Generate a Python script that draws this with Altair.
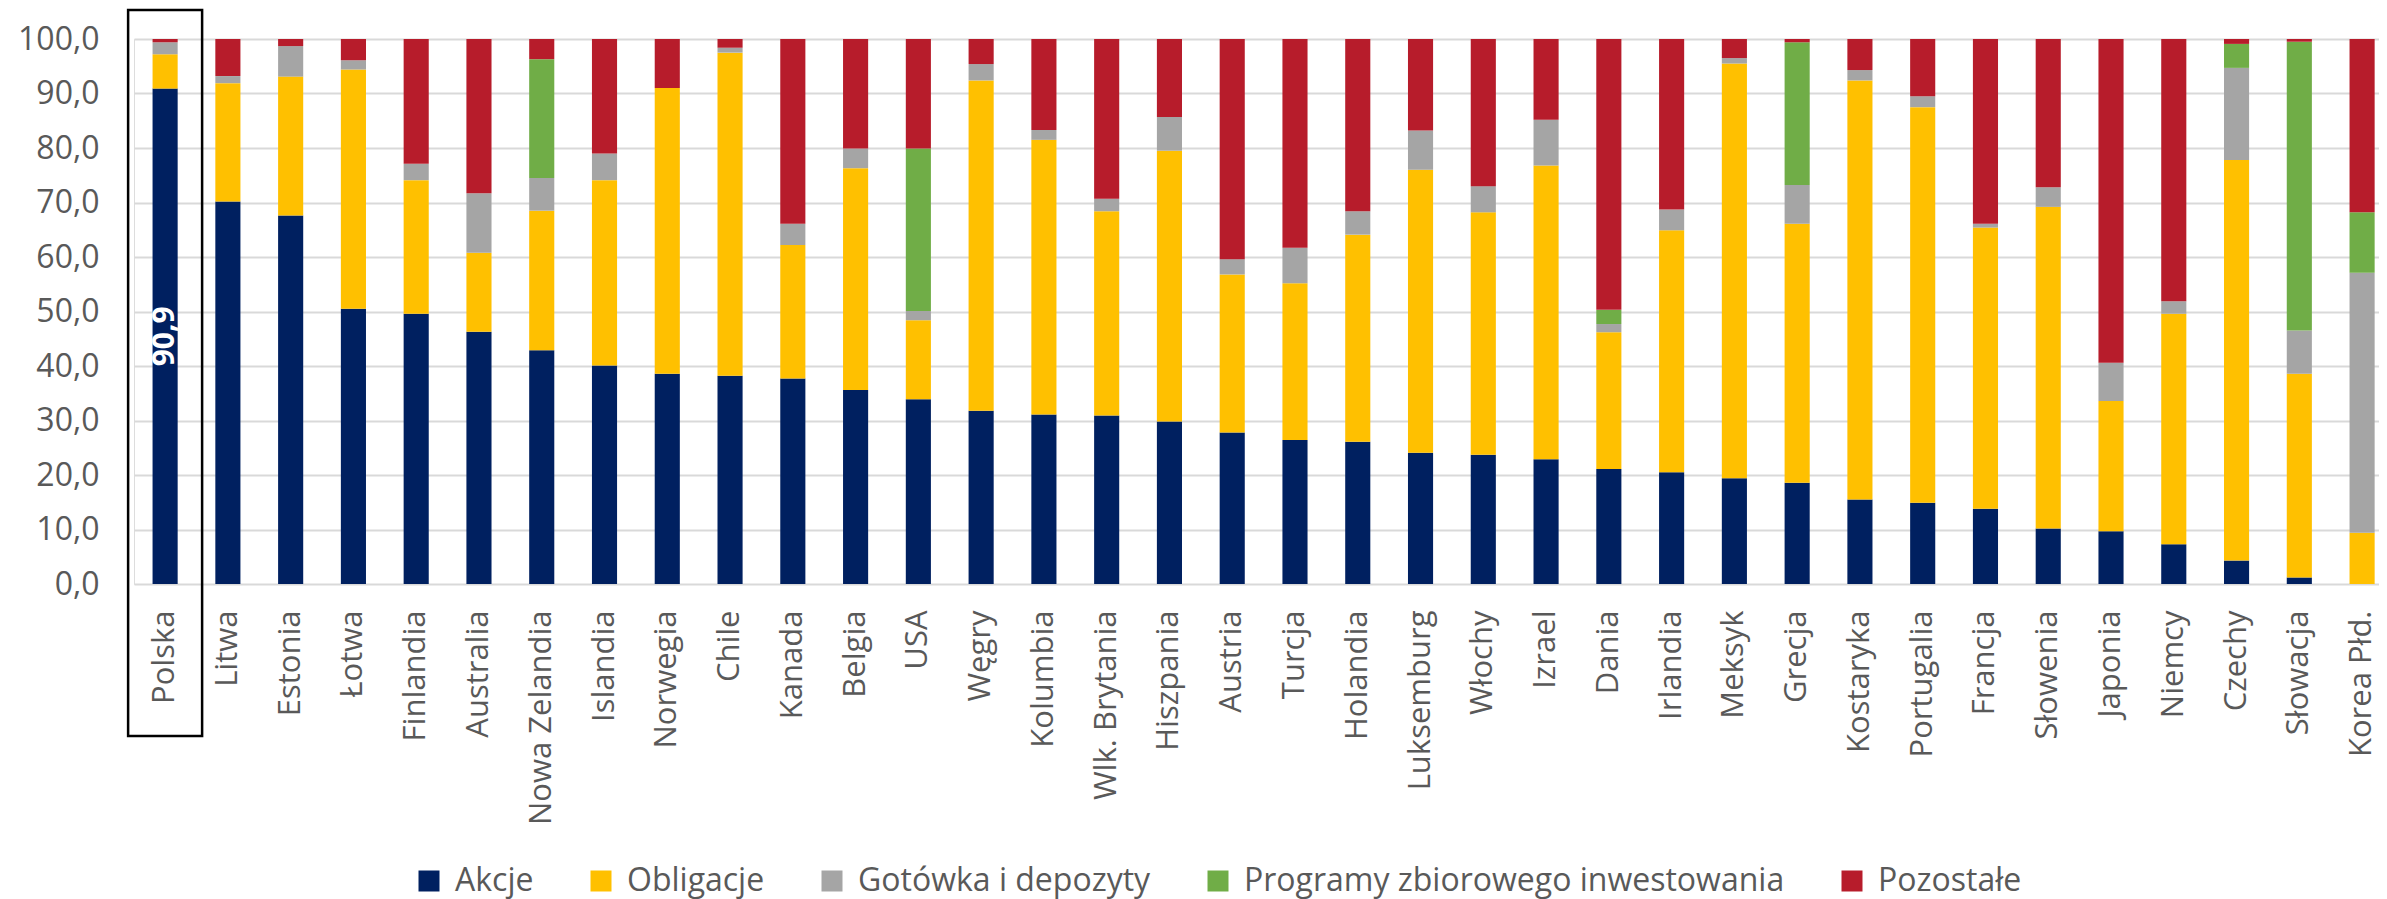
import altair as alt
import pandas as pd

countries = ["Polska", "Litwa", "Estonia", "Łotwa", "Finlandia", "Australia", "Nowa Zelandia",
             "Islandia", "Norwegia", "Chile", "Kanada", "Belgia", "USA", "Węgry", "Kolumbia",
             "Wlk. Brytania", "Hiszpania", "Austria", "Turcja", "Holandia", "Luksemburg", "Włochy",
             "Izrael", "Dania", "Irlandia", "Meksyk", "Grecja", "Kostaryka", "Portugalia", "Francja",
             "Słowenia", "Japonia", "Niemcy", "Czechy", "Słowacja", "Korea Płd."]

akcje = [90.9, 70.2, 67.6, 50.5, 49.6, 46.3, 42.9, 40.1, 38.6, 38.2, 37.7, 35.6, 33.9, 31.8, 31.1,
         30.9, 29.8, 27.8, 26.4, 26.1, 24.1, 23.7, 22.9, 21.1, 20.5, 19.4, 18.6, 15.5, 14.9, 13.8,
         10.2, 9.7, 7.3, 4.3, 1.2, 0.0]
obligacje = [6.3, 21.7, 25.5, 43.9, 24.5, 14.5, 25.6, 34.0, 52.4, 59.3, 24.5, 40.7, 14.5, 60.6, 50.4,
             37.5, 49.7, 29.0, 28.8, 38.0, 51.9, 44.5, 53.9, 25.1, 44.4, 76.1, 47.5, 76.9, 72.6, 51.6,
             59.0, 23.9, 42.3, 73.5, 37.4, 9.4]
gotowka = [2.2, 1.3, 5.6, 1.7, 3.0, 10.9, 6.0, 4.9, 0.0, 0.9, 3.9, 3.6, 1.7, 3.0, 1.8,
           2.3, 6.2, 2.8, 6.5, 4.3, 7.2, 4.8, 8.4, 1.5, 3.8, 1.0, 7.1, 1.9, 2.0, 0.7,
           3.6, 7.0, 2.3, 16.9, 7.9, 47.7]
programy = [0.0, 0.0, 0.0, 0.0, 0.0, 0.0, 21.8, 0.0, 0.0, 0.0, 0.0, 0.0, 29.8, 0.0, 0.0,
            0.0, 0.0, 0.0, 0.0, 0.0, 0.0, 0.0, 0.0, 2.6, 0.0, 0.0, 26.2, 0.0, 0.0, 0.0,
            0.0, 0.0, 0.0, 4.4, 53.0, 11.1]
pozostale = [0.6, 6.8, 1.3, 3.9, 22.9, 28.3, 3.7, 21.0, 9.0, 1.6, 33.9, 20.1, 20.1, 4.6, 16.7,
             29.3, 14.3, 40.4, 38.3, 31.6, 16.8, 27.0, 14.8, 49.7, 31.3, 3.5, 0.6, 5.7, 10.5, 33.9,
             27.2, 59.4, 48.1, 0.9, 0.5, 31.8]

series = ["Akcje", "Obligacje", "Gotówka i depozyty", "Programy zbiorowego inwestowania", "Pozostałe"]
colors = ["#002060", "#FFC000", "#A5A5A5", "#70AD47", "#B71C2B"]

highlight = "Polska"

rows = []
for idx, (name, vals) in enumerate(zip(series, [akcje, obligacje, gotowka, programy, pozostale])):
    for c, v in zip(countries, vals):
        rows.append({"kraj": c, "kategoria": name, "wartosc": v, "kolejnosc": idx})
df = pd.DataFrame(rows)

hl_df = pd.DataFrame({"kraj": [highlight], "wartosc": [akcje[countries.index(highlight)]]})

GRAY = "#595959"
FONT = "Open Sans"

x_enc = alt.X(
    "kraj:N", sort=countries, title=None,
    scale=alt.Scale(paddingInner=0.6, paddingOuter=0.1825, align=0.81),
    axis=alt.Axis(labelAngle=270, labelAlign="right", labelBaseline="middle", labelPadding=26,
                  ticks=False, tickSize=0, domain=False, grid=False, labelFontSize=31,
                  labelColor=GRAY, labelFont=FONT, labelLimit=0),
)

y_enc = alt.Y(
    "wartosc:Q", stack="zero", title=None,
    scale=alt.Scale(domain=[0, 100], nice=False),
    axis=alt.Axis(values=list(range(0, 101, 10)),
                  labelExpr="replace(format(datum.value, '.1f'), '.', ',')",
                  domain=False, ticks=False, tickSize=0, labelPadding=35,
                  gridColor="#D9D9D9", gridWidth=2, labelFontSize=32, labelColor=GRAY,
                  labelFont=FONT),
)

bars = alt.Chart(df).mark_bar().encode(
    x=x_enc,
    y=y_enc,
    color=alt.Color(
        "kategoria:N",
        scale=alt.Scale(domain=series, range=colors),
        legend=alt.Legend(title=None, orient="none", legendX=279, legendY=826,
                          direction="horizontal", symbolType="square", symbolSize=441,
                          symbolStrokeWidth=0, labelFontSize=32, labelColor=GRAY, labelFont=FONT,
                          labelOffset=10, columnPadding=51, padding=0, labelLimit=0),
    ),
    order=alt.Order("kolejnosc:Q", sort="ascending"),
)

text = alt.Chart(hl_df).transform_calculate(
    mid="datum.wartosc / 2",
    etykieta="replace(format(datum.wartosc, '.1f'), '.', ',')",
).mark_text(angle=270, color="white", fontWeight="bold", fontSize=30, font=FONT,
            align="center", baseline="middle").encode(
    x=alt.X("kraj:N", sort=countries),
    y=alt.Y("mid:Q", title=None),
    text="etykieta:N",
)

BOX_TOP = 105.3
BOX_BOTTOM = -27.9
box = alt.Chart(hl_df).mark_bar(width=74, fillOpacity=0, stroke="black", strokeWidth=2.5).encode(
    x=alt.X("kraj:N", sort=countries),
    y=alt.YDatum(BOX_TOP, title=None),
    y2=alt.Y2Datum(BOX_BOTTOM),
)

chart = alt.layer(bars, text, box).properties(
    width=2245, height=545,
    autosize=alt.AutoSizeParams(type="none"),
    padding={"left": 126, "top": 31, "right": 0, "bottom": 315},
).configure_view(stroke=None).configure(font=FONT)

chart.save("out.html", embed_options={"renderer": "svg", "actions": False})
